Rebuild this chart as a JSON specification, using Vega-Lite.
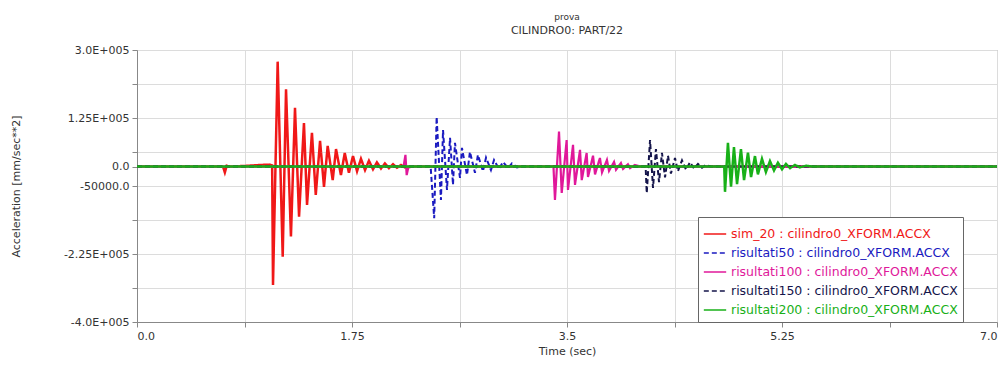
{
  "$schema": "https://vega.github.io/schema/vega-lite/v6.json",
  "autosize": {"type": "none"},
  "width": 860,
  "height": 272,
  "padding": {"left": 137, "top": 50, "right": 6, "bottom": 46},
  "background": "white",
  "config": {
    "font": "DejaVu Sans",
    "view": {"stroke": "#999999", "strokeWidth": 1},
    "axis": {"labelFont": "DejaVu Sans", "titleFont": "DejaVu Sans", "labelColor": "#333333", "titleColor": "#333333", "labelFontSize": 11, "titleFontSize": 11, "titleFontWeight": "normal", "gridColor": "#dcdcdc", "domainColor": "#888888", "tickColor": "#888888", "tickSize": 5}
  },
  "title": {"text": "prova", "subtitle": "CILINDRO0: PART/22", "fontSize": 9, "subtitleFontSize": 11, "fontWeight": "normal", "color": "#333333", "subtitleColor": "#333333", "font": "DejaVu Sans", "subtitleFont": "DejaVu Sans", "anchor": "middle", "offset": 8, "subtitlePadding": 3},
  "data": {"values": [
    {"s": "sim_20", "t": 0, "v": 0},
    {"s": "sim_20", "t": 0.70, "v": 0},
    {"s": "sim_20", "t": 0.715, "v": -15000},
    {"s": "sim_20", "t": 0.73, "v": 2000},
    {"s": "sim_20", "t": 0.75, "v": 0},
    {"s": "sim_20", "t": 0.90, "v": 2000},
    {"s": "sim_20", "t": 1.00, "v": 4000},
    {"s": "sim_20", "t": 1.08, "v": 5000},
    {"s": "sim_20", "t": 1.10, "v": 3000},
    {"s": "sim_20", "t": 1.107, "v": -305000},
    {"s": "sim_20", "t": 1.145, "v": 270000},
    {"s": "sim_20", "t": 1.186, "v": -232000},
    {"s": "sim_20", "t": 1.213, "v": 199000},
    {"s": "sim_20", "t": 1.253, "v": -180000},
    {"s": "sim_20", "t": 1.286, "v": 151000},
    {"s": "sim_20", "t": 1.319, "v": -129000},
    {"s": "sim_20", "t": 1.359, "v": 112000},
    {"s": "sim_20", "t": 1.384, "v": -99000},
    {"s": "sim_20", "t": 1.424, "v": 87000},
    {"s": "sim_20", "t": 1.455, "v": -73000},
    {"s": "sim_20", "t": 1.490, "v": 66000},
    {"s": "sim_20", "t": 1.522, "v": -52000},
    {"s": "sim_20", "t": 1.552, "v": 53000},
    {"s": "sim_20", "t": 1.593, "v": -35000},
    {"s": "sim_20", "t": 1.620, "v": 45000},
    {"s": "sim_20", "t": 1.660, "v": -22000},
    {"s": "sim_20", "t": 1.691, "v": 35000},
    {"s": "sim_20", "t": 1.725, "v": -16000},
    {"s": "sim_20", "t": 1.758, "v": 27000},
    {"s": "sim_20", "t": 1.791, "v": -12000},
    {"s": "sim_20", "t": 1.823, "v": 20000},
    {"s": "sim_20", "t": 1.856, "v": -9000},
    {"s": "sim_20", "t": 1.888, "v": 15000},
    {"s": "sim_20", "t": 1.921, "v": -7000},
    {"s": "sim_20", "t": 1.953, "v": 11000},
    {"s": "sim_20", "t": 1.986, "v": -5000},
    {"s": "sim_20", "t": 2.018, "v": 8000},
    {"s": "sim_20", "t": 2.051, "v": -4000},
    {"s": "sim_20", "t": 2.084, "v": 6000},
    {"s": "sim_20", "t": 2.116, "v": -3000},
    {"s": "sim_20", "t": 2.149, "v": 4000},
    {"s": "sim_20", "t": 2.181, "v": -2000},
    {"s": "sim_20", "t": 2.25, "v": 0},
    {"s": "sim_20", "t": 7, "v": 0},

    {"s": "risultati50", "t": 0, "v": 0},
    {"s": "risultati50", "t": 2.39, "v": 0},
    {"s": "risultati50", "t": 2.419, "v": -133000},
    {"s": "risultati50", "t": 2.439, "v": 128000},
    {"s": "risultati50", "t": 2.474, "v": -86000},
    {"s": "risultati50", "t": 2.491, "v": 94000},
    {"s": "risultati50", "t": 2.523, "v": -60000},
    {"s": "risultati50", "t": 2.548, "v": 74000},
    {"s": "risultati50", "t": 2.572, "v": -47000},
    {"s": "risultati50", "t": 2.588, "v": 61000},
    {"s": "risultati50", "t": 2.629, "v": -29000},
    {"s": "risultati50", "t": 2.645, "v": 48000},
    {"s": "risultati50", "t": 2.686, "v": -22000},
    {"s": "risultati50", "t": 2.710, "v": 38000},
    {"s": "risultati50", "t": 2.751, "v": -16000},
    {"s": "risultati50", "t": 2.775, "v": 30000},
    {"s": "risultati50", "t": 2.816, "v": -12000},
    {"s": "risultati50", "t": 2.841, "v": 23000},
    {"s": "risultati50", "t": 2.881, "v": -9000},
    {"s": "risultati50", "t": 2.906, "v": 17000},
    {"s": "risultati50", "t": 2.946, "v": -6000},
    {"s": "risultati50", "t": 2.979, "v": 12000},
    {"s": "risultati50", "t": 3.020, "v": -4000},
    {"s": "risultati50", "t": 3.052, "v": 8000},
    {"s": "risultati50", "t": 3.093, "v": -2000},
    {"s": "risultati50", "t": 3.13, "v": 0},
    {"s": "risultati50", "t": 7, "v": 0},

    {"s": "risultati100", "t": 0, "v": 0},
    {"s": "risultati100", "t": 2.17, "v": 0},
    {"s": "risultati100", "t": 2.185, "v": 30000},
    {"s": "risultati100", "t": 2.195, "v": -22000},
    {"s": "risultati100", "t": 2.21, "v": 0},
    {"s": "risultati100", "t": 3.39, "v": 0},
    {"s": "risultati100", "t": 3.402, "v": -86000},
    {"s": "risultati100", "t": 3.435, "v": 90000},
    {"s": "risultati100", "t": 3.457, "v": -68000},
    {"s": "risultati100", "t": 3.497, "v": 68000},
    {"s": "risultati100", "t": 3.508, "v": -60000},
    {"s": "risultati100", "t": 3.549, "v": 56000},
    {"s": "risultati100", "t": 3.565, "v": -47000},
    {"s": "risultati100", "t": 3.606, "v": 43000},
    {"s": "risultati100", "t": 3.620, "v": -35000},
    {"s": "risultati100", "t": 3.660, "v": 35000},
    {"s": "risultati100", "t": 3.671, "v": -27000},
    {"s": "risultati100", "t": 3.712, "v": 28000},
    {"s": "risultati100", "t": 3.728, "v": -20000},
    {"s": "risultati100", "t": 3.768, "v": 22000},
    {"s": "risultati100", "t": 3.785, "v": -15000},
    {"s": "risultati100", "t": 3.825, "v": 17000},
    {"s": "risultati100", "t": 3.842, "v": -11000},
    {"s": "risultati100", "t": 3.883, "v": 12000},
    {"s": "risultati100", "t": 3.899, "v": -8000},
    {"s": "risultati100", "t": 3.939, "v": 9000},
    {"s": "risultati100", "t": 3.956, "v": -6000},
    {"s": "risultati100", "t": 3.996, "v": 6000},
    {"s": "risultati100", "t": 4.013, "v": -4000},
    {"s": "risultati100", "t": 4.053, "v": 4000},
    {"s": "risultati100", "t": 4.10, "v": 0},
    {"s": "risultati100", "t": 7, "v": 0},

    {"s": "risultati150", "t": 0, "v": 0},
    {"s": "risultati150", "t": 4.14, "v": 0},
    {"s": "risultati150", "t": 4.149, "v": -68000},
    {"s": "risultati150", "t": 4.176, "v": 68000},
    {"s": "risultati150", "t": 4.200, "v": -55000},
    {"s": "risultati150", "t": 4.224, "v": 45000},
    {"s": "risultati150", "t": 4.249, "v": -40000},
    {"s": "risultati150", "t": 4.273, "v": 35000},
    {"s": "risultati150", "t": 4.298, "v": -28000},
    {"s": "risultati150", "t": 4.322, "v": 28000},
    {"s": "risultati150", "t": 4.346, "v": -18000},
    {"s": "risultati150", "t": 4.379, "v": 22000},
    {"s": "risultati150", "t": 4.403, "v": -12000},
    {"s": "risultati150", "t": 4.436, "v": 16000},
    {"s": "risultati150", "t": 4.469, "v": -8000},
    {"s": "risultati150", "t": 4.501, "v": 11000},
    {"s": "risultati150", "t": 4.534, "v": -5000},
    {"s": "risultati150", "t": 4.566, "v": 7000},
    {"s": "risultati150", "t": 4.599, "v": -3000},
    {"s": "risultati150", "t": 4.631, "v": 4000},
    {"s": "risultati150", "t": 4.67, "v": 0},
    {"s": "risultati150", "t": 7, "v": 0},

    {"s": "risultati200", "t": 0, "v": 0},
    {"s": "risultati200", "t": 4.78, "v": 0},
    {"s": "risultati200", "t": 4.786, "v": -65000},
    {"s": "risultati200", "t": 4.810, "v": 61000},
    {"s": "risultati200", "t": 4.835, "v": -52000},
    {"s": "risultati200", "t": 4.859, "v": 50000},
    {"s": "risultati200", "t": 4.884, "v": -45000},
    {"s": "risultati200", "t": 4.916, "v": 45000},
    {"s": "risultati200", "t": 4.941, "v": -35000},
    {"s": "risultati200", "t": 4.973, "v": 36000},
    {"s": "risultati200", "t": 4.998, "v": -27000},
    {"s": "risultati200", "t": 5.030, "v": 27000},
    {"s": "risultati200", "t": 5.054, "v": -20000},
    {"s": "risultati200", "t": 5.087, "v": 20000},
    {"s": "risultati200", "t": 5.119, "v": -14000},
    {"s": "risultati200", "t": 5.152, "v": 14000},
    {"s": "risultati200", "t": 5.185, "v": -10000},
    {"s": "risultati200", "t": 5.217, "v": 10000},
    {"s": "risultati200", "t": 5.250, "v": -7000},
    {"s": "risultati200", "t": 5.282, "v": 7000},
    {"s": "risultati200", "t": 5.315, "v": -4000},
    {"s": "risultati200", "t": 5.356, "v": 4000},
    {"s": "risultati200", "t": 5.396, "v": -2000},
    {"s": "risultati200", "t": 5.445, "v": 2000},
    {"s": "risultati200", "t": 5.50, "v": 0},
    {"s": "risultati200", "t": 7, "v": 0}
  ]},
  "encoding": {
    "x": {"field": "t", "type": "quantitative", "scale": {"domain": [0, 7], "nice": false, "zero": false},
      "axis": {"title": "Time (sec)", "values": [0, 0.875, 1.75, 2.625, 3.5, 4.375, 5.25, 6.125, 7], "labelExpr": "datum.value == 0 ? '0.0' : datum.value == 1.75 ? '1.75' : datum.value == 3.5 ? '3.5' : datum.value == 5.25 ? '5.25' : datum.value == 7 ? '7.0' : ''", "labelPadding": 3, "titlePadding": 4}},
    "y": {"field": "v", "type": "quantitative", "scale": {"domain": [-400000, 300000], "nice": false, "zero": false},
      "axis": {"title": "Acceleration [mm/sec**2]", "values": [-400000, -312500, -225000, -137500, -50000, 0, 37500, 125000, 212500, 300000], "labelExpr": "datum.value == 300000 ? '3.0E+005' : datum.value == 125000 ? '1.25E+005' : datum.value == 0 ? '0.0' : datum.value == -50000 ? '-50000.0' : datum.value == -225000 ? '-2.25E+005' : datum.value == -400000 ? '-4.0E+005' : ''", "labelPadding": 3, "titlePadding": 42}},
    "color": {"field": "s", "type": "nominal",
      "scale": {"domain": ["sim_20", "risultati50", "risultati100", "risultati150", "risultati200"], "range": ["#f01818", "#1a1ac0", "#e0189a", "#14144a", "#18b018"]},
      "legend": {"title": null, "orient": "none", "legendX": 561, "legendY": 167, "labelExpr": "datum.label + ' : cilindro0_XFORM.ACCX'", "labelLimit": 400, "symbolType": "stroke", "symbolSize": 500, "symbolStrokeWidth": 1.5, "labelFontSize": 12.5, "labelFont": "DejaVu Sans", "strokeColor": "#666666", "fillColor": "white", "padding": 5, "rowPadding": -4, "labelOffset": 4,
        "encode": {"labels": {"update": {"fill": {"scale": "color", "field": "value"}}}}}},
    "strokeDash": {"field": "s", "type": "nominal",
      "scale": {"domain": ["sim_20", "risultati50", "risultati100", "risultati150", "risultati200"], "range": [[1, 0], [5, 3], [1, 0], [5, 3], [1, 0]]},
      "legend": null}
  },
  "layer": [
    {"transform": [{"filter": {"field": "s", "equal": "sim_20"}}], "mark": {"type": "line", "strokeWidth": 2.5}},
    {"transform": [{"filter": {"field": "s", "equal": "risultati50"}}], "mark": {"type": "line", "strokeWidth": 2}},
    {"transform": [{"filter": {"field": "s", "equal": "risultati100"}}], "mark": {"type": "line", "strokeWidth": 2.2}},
    {"transform": [{"filter": {"field": "s", "equal": "risultati150"}}], "mark": {"type": "line", "strokeWidth": 2}},
    {"transform": [{"filter": {"field": "s", "equal": "risultati200"}}], "mark": {"type": "line", "strokeWidth": 2.5}}
  ]
}
